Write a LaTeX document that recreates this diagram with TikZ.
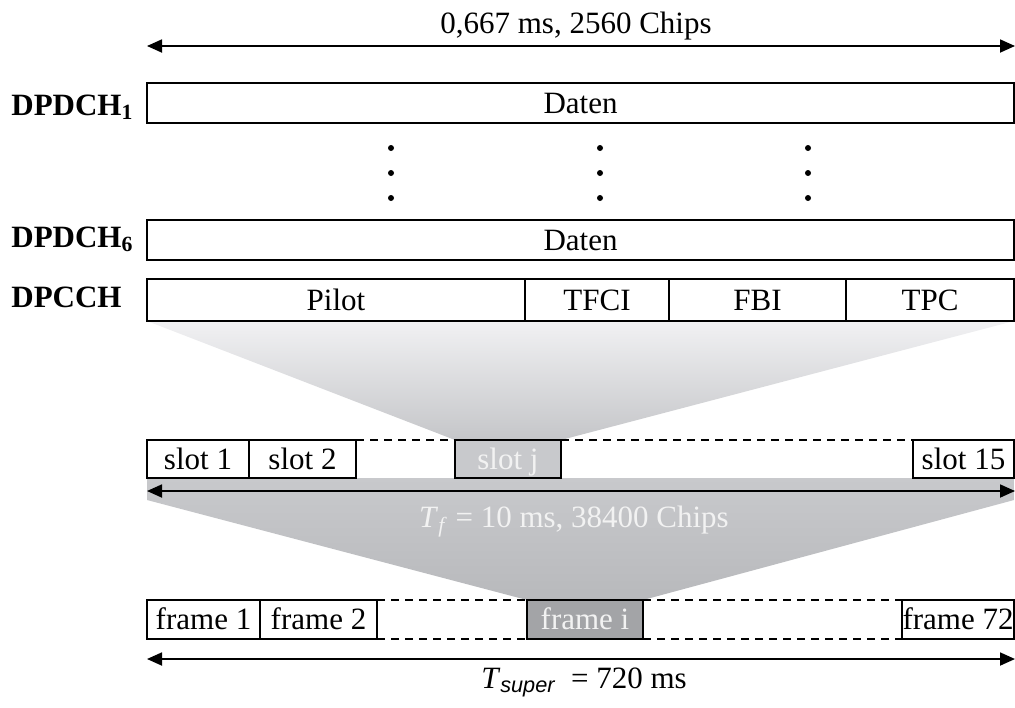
\documentclass[tikz,border=0pt]{standalone}
\usepackage{fontspec}
\setmainfont{Liberation Serif}
\newfontfamily\helvsans{Liberation Sans}
\usepackage{tikz}
\usetikzlibrary{arrows.meta, positioning, backgrounds}
\definecolor{funneltop}{RGB}{241,241,243}
\definecolor{funnelmid}{RGB}{197,198,201}
\definecolor{funnellow}{RGB}{184,185,188}
\definecolor{slotgray}{RGB}{200,201,204}
\definecolor{framegray}{RGB}{163,164,167}
\definecolor{paletext}{RGB}{242,242,242}

\begin{document}
\begin{tikzpicture}[
    x=0.5pt, y=-0.5pt,
    font=\fontsize{15.5}{18}\selectfont,
    field/.style={
        rectangle,
        draw=black,
        line width=1.3pt,
        fill=white,
        inner sep=0pt,
        outer sep=0pt,
        text height=13.6pt,
        text depth=3.3pt,
        anchor=west
    },
    slotrow/.style={field, minimum height=19pt},
    framerow/.style={field, minimum height=19.5pt},
    chan/.style={anchor=base west, inner sep=0pt, font=\fontsize{15.5}{18}\selectfont\bfseries},
    gap/.style={line width=0.7pt, dash pattern=on 4pt off 3pt},
    span/.style={{Triangle[length=7.5pt,width=6.5pt]}-{Triangle[length=7.5pt,width=6.5pt]}, line width=0.9pt},
    vdot/.style={circle, fill=black, inner sep=0pt, minimum size=3pt}
]
\useasboundingbox (0,0) rectangle (1015,707);

% slot duration
\coordinate (topL) at (147,46);
\coordinate (topR) at (1015,46);
\draw[span] (topL) -- (topR);
\node[anchor=base] (toplab) at (576,33) {0,667 ms, 2560 Chips};

% DPDCH rows
\node[chan] (lab1) at (11,115) {DPDCH\textsubscript{1}};
\node[field, minimum width=433.5pt, minimum height=20pt] (dpdch1) at (147,103) {Daten};
\foreach \x in {391,600,808}
    \foreach \y in {148,173,198}
        \node[vdot] at (\x,\y) {};
\node[chan] (lab6) at (11,247) {DPDCH\textsubscript{6}};
\node[field, minimum width=433.5pt, minimum height=20pt] (dpdch6) at (147,240) {Daten};

% DPCCH row
\node[chan] (labc) at (11,307) {DPCCH};
\node[field, minimum width=189pt, minimum height=21pt] (pilot) at (147,300) {Pilot};
\node[field, minimum width=72pt, minimum height=21pt, right=0pt of pilot] (tfci) {TFCI};
\node[field, minimum width=88.5pt, minimum height=21pt, right=0pt of tfci] (fbi) {FBI};
\node[field, minimum width=84pt, minimum height=21pt, right=0pt of fbi] (tpc) {TPC};

% slot row
\node[slotrow, minimum width=51pt] (slot1) at (147,459) {slot 1};
\node[slotrow, minimum width=53.5pt, right=0pt of slot1] (slot2) {slot 2};
\node[slotrow, minimum width=53pt, fill=slotgray, text=paletext] (slotj) at (455,459) {slot j};
\node[slotrow, minimum width=50.5pt] (slot15) at (913,459) {slot 15};
\draw[gap] (slot2.north east) -- (slotj.north west);
\draw[gap] (slotj.north east) -- (slot15.north west);

% frame duration
\coordinate (tfL) at (147,491);
\coordinate (tfR) at (1015,491);
\draw[span] (tfL) -- (tfR);
\node[anchor=base, text=paletext] (tflab) at (574,527) {\textit{T}\textsubscript{\textit{f}} = 10 ms, 38400 Chips};

% frame row
\node[framerow, minimum width=56.5pt] (frame1) at (147,619.5) {frame 1};
\node[framerow, minimum width=58.5pt, right=0pt of frame1] (frame2) {frame 2};
\node[framerow, minimum width=58pt, fill=framegray, text=paletext] (framei) at (527,619.5) {frame i};
\node[framerow, minimum width=56pt] (frame72) at (902,619.5) {frame 72};
\draw[gap] (frame2.north east) -- (framei.north west);
\draw[gap] (frame2.south east) -- (framei.south west);
\draw[gap] (framei.north east) -- (frame72.north west);
\draw[gap] (framei.south east) -- (frame72.south west);

% superframe duration
\coordinate (supL) at (147,659);
\coordinate (supR) at (1015,659);
\draw[span] (supL) -- (supR);
\node[anchor=base] (suplab) at (584,688) {\textit{T}\textsubscript{\helvsans\itshape super}\ \ = 720 ms};

% zoom funnels
\begin{scope}[on background layer]
\shade[top color=funneltop, bottom color=funnelmid]
    (pilot.south west) -- (tpc.south east) -- (slotj.north east) -- (slotj.north west) -- cycle;
\shade[top color=slotgray, bottom color=funnellow]
    (slot1.south west) -- (slot15.south east) -- ([yshift=-11pt]slot15.south east)
    -- (framei.north east) -- (framei.north west) -- ([yshift=-11pt]slot1.south west) -- cycle;
\end{scope}

\end{tikzpicture}
\end{document}
